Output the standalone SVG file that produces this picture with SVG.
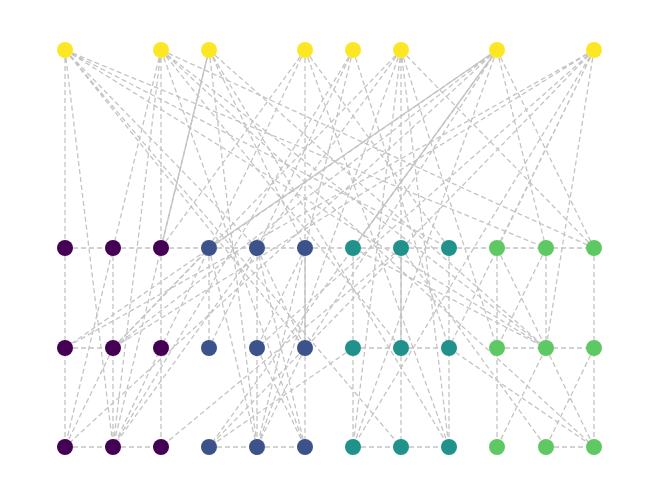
<svg xmlns="http://www.w3.org/2000/svg" width="660" height="499" viewBox="0 0 660 499">
<style>
.e{stroke:#c4c4c4;stroke-width:1.3;stroke-dasharray:5,3;fill:none}
.s{stroke:#c4c4c4;stroke-width:1.3;fill:none}
.y{fill:#fde725}.p{fill:#440154}.b{fill:#3b528b}.t{fill:#21918c}.g{fill:#5ec962}
</style>
<rect width="660" height="499" fill="#fff"/>
<g id="edges">
<path class="e" d="M65,248H594"/>
<path class="e" d="M65,348H113M353,348H449M497,348H594"/>
<path class="e" d="M65,447H161M209,447H305M353,447H449M546,447H594"/>
<path class="e" d="M65,248V447M113,248V447M161,248V447M209,248V348M257,248V447M305,348V447M353,248V447M401,348V447M449,248V447M497,248V447M546,248V348M594,248V447"/>
<path class="s" d="M305,248V348M401,248V348"/>
<path class="e" d="M497,248L546,348L497,447M546,248L497,348M546,348L594,447M594,348L546,447M401,248L546,447M449,348L594,447"/>
<path class="e" d="M113,348L65,447M113,348L209,248M401,248L161,447M353,348L209,447M353,248L546,348"/>
<path class="e" d="M257,348L305,447M305,348L257,447M257,248L305,348M305,248L257,348M209,248L257,447M257,248L305,447"/>
<path class="e" d="M65,50L65,248M65,50L113,447M65,50L401,447M65,50L546,348M65,50L546,248M65,50L257,248M65,50L305,348M65,50L449,248"/>
<path class="e" d="M161,50L161,248M161,50L113,447M161,50L65,447M161,50L594,447M161,50L594,248M161,50L546,348M161,50L401,348M161,50L305,447"/>
<path class="s" d="M209,50L161,248"/>
<path class="e" d="M209,50L546,348M209,50L257,447M209,50L449,447M209,50L305,248M209,50L113,447"/>
<path class="e" d="M305,50L161,248M305,50L305,348M305,50L449,447M305,50L449,248M305,50L113,447"/>
<path class="e" d="M353,50L257,447M353,50L449,348M353,50L209,348M353,50L113,447"/>
<path class="e" d="M401,50L401,348M401,50L113,447M401,50L113,348M401,50L257,447M401,50L353,447M401,50L449,447M401,50L497,348M401,50L594,248"/>
<path class="s" d="M497,50L353,248M497,50L209,248"/>
<path class="e" d="M497,50L209,447M497,50L546,248M497,50L594,248M497,50L65,348M497,50L113,348M497,50L65,447M497,50L305,348M497,50L353,447"/>
<path class="e" d="M594,50L546,348M594,50L65,348M594,50L113,348M594,50L209,447M594,50L257,348M594,50L353,447M594,50L449,348M594,50L497,248"/>
</g>
<g id="n-top">
<circle class="y" cx="65" cy="50" r="8"/><circle class="y" cx="161" cy="50" r="8"/><circle class="y" cx="209" cy="50" r="8"/><circle class="y" cx="305" cy="50" r="8"/><circle class="y" cx="353" cy="50" r="8"/><circle class="y" cx="401" cy="50" r="8"/><circle class="y" cx="497" cy="50" r="8"/><circle class="y" cx="594" cy="50" r="8"/>
</g>
<g id="n-purple">
<circle class="p" cx="65" cy="248" r="8"/><circle class="p" cx="113" cy="248" r="8"/><circle class="p" cx="161" cy="248" r="8"/>
<circle class="p" cx="65" cy="348" r="8"/><circle class="p" cx="113" cy="348" r="8"/><circle class="p" cx="161" cy="348" r="8"/>
<circle class="p" cx="65" cy="447" r="8"/><circle class="p" cx="113" cy="447" r="8"/><circle class="p" cx="161" cy="447" r="8"/>
</g>
<g id="n-blue">
<circle class="b" cx="209" cy="248" r="8"/><circle class="b" cx="257" cy="248" r="8"/><circle class="b" cx="305" cy="248" r="8"/>
<circle class="b" cx="209" cy="348" r="8"/><circle class="b" cx="257" cy="348" r="8"/><circle class="b" cx="305" cy="348" r="8"/>
<circle class="b" cx="209" cy="447" r="8"/><circle class="b" cx="257" cy="447" r="8"/><circle class="b" cx="305" cy="447" r="8"/>
</g>
<g id="n-teal">
<circle class="t" cx="353" cy="248" r="8"/><circle class="t" cx="401" cy="248" r="8"/><circle class="t" cx="449" cy="248" r="8"/>
<circle class="t" cx="353" cy="348" r="8"/><circle class="t" cx="401" cy="348" r="8"/><circle class="t" cx="449" cy="348" r="8"/>
<circle class="t" cx="353" cy="447" r="8"/><circle class="t" cx="401" cy="447" r="8"/><circle class="t" cx="449" cy="447" r="8"/>
</g>
<g id="n-green">
<circle class="g" cx="497" cy="248" r="8"/><circle class="g" cx="546" cy="248" r="8"/><circle class="g" cx="594" cy="248" r="8"/>
<circle class="g" cx="497" cy="348" r="8"/><circle class="g" cx="546" cy="348" r="8"/><circle class="g" cx="594" cy="348" r="8"/>
<circle class="g" cx="497" cy="447" r="8"/><circle class="g" cx="546" cy="447" r="8"/><circle class="g" cx="594" cy="447" r="8"/>
</g>
</svg>
